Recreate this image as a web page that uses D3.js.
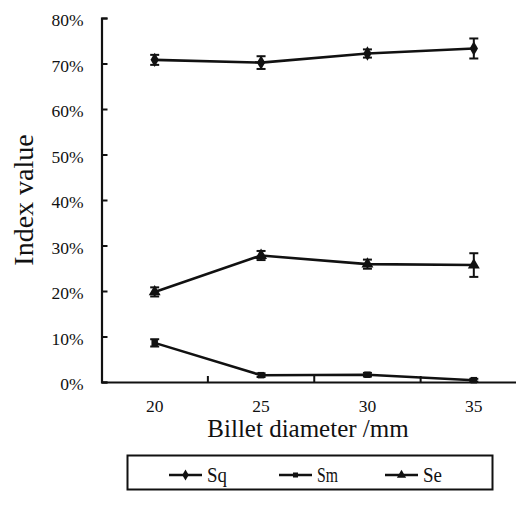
<!DOCTYPE html>
<html>
<head>
<meta charset="utf-8">
<script src="https://cdn.jsdelivr.net/npm/d3@7/dist/d3.min.js"></script>
<style>
  html, body { margin: 0; padding: 0; background: #fff; }
</style>
</head>
<body>
<svg id="chart" width="516" height="507"></svg>
<script>
// Billet diameters (mm)
const categories = ["20", "25", "30", "35"];

// Index values (fraction) and their error half-widths
const sqValues = [0.708, 0.702, 0.722, 0.733];
const sqErrors = [0.011, 0.014, 0.009, 0.022];
const smValues = [0.086, 0.015, 0.016, 0.004];
const smErrors = [0.008, 0.004, 0.004, 0.003];
const seValues = [0.198, 0.278, 0.259, 0.257];
const seErrors = [0.010, 0.010, 0.010, 0.026];

const yTickValues = [0, 0.1, 0.2, 0.3, 0.4, 0.5, 0.6, 0.7, 0.8];
const seriesNames = ["Sq", "Sm", "Se"];

function drawChart() {
  const FONT = "'Liberation Serif'";
  const ink = "#111";
  const root = d3.select("#chart");

  const seriesVals = [sqValues, smValues, seValues];
  const seriesErrs = [sqErrors, smErrors, seErrors];
  const symbols = [d3.symbolDiamond, d3.symbolSquare, d3.symbolTriangle];
  const symbolSizes = [60, 42, 62];

  const xs = d3.scaleBand().domain(categories).range([101.5, 527]).padding(0);
  const ys = d3.scaleLinear().domain([0, 0.8]).range([382, 18]);
  const cx = d => xs(d) + xs.bandwidth() / 2;

  const addText = (sel) => sel.style("font-family", FONT).attr("fill", ink);

  // Axis titles
  root.append("text")
    .attr("transform", `translate(33,${(ys(0) + ys(0.8)) / 2}) rotate(-90)`)
    .attr("text-anchor", "middle")
    .style("font-size", "28px")
    .call(addText)
    .text("Index value");
  root.append("text")
    .attr("x", 308).attr("y", 437)
    .attr("text-anchor", "middle")
    .style("font-size", "25px")
    .call(addText)
    .text("Billet diameter /mm");

  // Y axis: ticks point inward, labels on the left
  const gy = root.append("g")
    .attr("transform", `translate(${xs.range()[0]},0)`)
    .call(d3.axisLeft(ys).tickValues(yTickValues).tickSize(-6).tickPadding(18)
      .tickFormat(d3.format(".0%")));
  gy.attr("font-family", null).attr("font-size", null);
  gy.select(".domain").attr("stroke", ink).attr("stroke-width", 2.2);
  gy.selectAll(".tick line").attr("stroke", ink).attr("stroke-width", 2);
  gy.selectAll(".tick text").style("font-size", "17.5px").attr("dy", "0.45em").call(addText);

  // X axis: labels centred on each band, ticks at band boundaries pointing up
  const gx = root.append("g")
    .attr("transform", `translate(0,${ys(0)})`)
    .call(d3.axisBottom(xs).tickSize(0).tickPadding(18));
  gx.attr("font-family", null).attr("font-size", null);
  gx.select(".domain").attr("stroke", ink).attr("stroke-width", 2.2);
  gx.selectAll(".tick text").style("font-size", "17.5px").call(addText);
  gx.selectAll(".boundary")
    .data(categories.slice(1))
    .join("line")
    .attr("class", "boundary")
    .attr("x1", d => xs(d)).attr("x2", d => xs(d))
    .attr("y1", 0).attr("y2", -6)
    .attr("stroke", ink).attr("stroke-width", 2);

  // Series lines, error bars and markers
  const path = d3.line().x((d, i) => cx(categories[i])).y(d => ys(d));
  seriesVals.forEach((vals, s) => {
    const g = root.append("g");
    g.append("path")
      .attr("d", path(vals))
      .attr("fill", "none").attr("stroke", ink).attr("stroke-width", 2.6);
    const errs = seriesErrs[s];
    const eb = g.selectAll(".err").data(vals).join("g").attr("class", "err");
    eb.append("line")
      .attr("x1", (d, i) => cx(categories[i])).attr("x2", (d, i) => cx(categories[i]))
      .attr("y1", (d, i) => ys(d + errs[i])).attr("y2", (d, i) => ys(Math.max(0, d - errs[i])))
      .attr("stroke", ink).attr("stroke-width", 2);
    [1, -1].forEach(sign => {
      eb.append("line")
        .attr("x1", (d, i) => cx(categories[i]) - 4.5).attr("x2", (d, i) => cx(categories[i]) + 4.5)
        .attr("y1", (d, i) => ys(Math.max(0, d + sign * errs[i])))
        .attr("y2", (d, i) => ys(Math.max(0, d + sign * errs[i])))
        .attr("stroke", ink).attr("stroke-width", 2);
    });
    g.selectAll(".mark").data(vals).join("path")
      .attr("class", "mark")
      .attr("transform", (d, i) => `translate(${cx(categories[i])},${ys(d)})`)
      .attr("d", d3.symbol().type(symbols[s]).size(symbolSizes[s])())
      .attr("fill", ink);
  });

  // Legend
  const lg = root.append("g");
  lg.append("rect")
    .attr("x", 127.5).attr("y", 455.5).attr("width", 365).attr("height", 34)
    .attr("fill", "#fff").attr("stroke", ink).attr("stroke-width", 2);
  const legendX = [169, 279, 385];
  const legendTextWidth = [20, 21, 19];
  seriesNames.forEach((name, s) => {
    const lx = legendX[s];
    lg.append("line")
      .attr("x1", lx).attr("x2", lx + 33).attr("y1", 475).attr("y2", 475)
      .attr("stroke", ink).attr("stroke-width", 2.4);
    lg.append("path")
      .attr("transform", `translate(${lx + 16.5},475)`)
      .attr("d", d3.symbol().type(symbols[s]).size(symbolSizes[s] * 0.6)())
      .attr("fill", ink);
    lg.append("text")
      .attr("x", lx + 38).attr("y", 482)
      .style("font-size", "21px")
      .attr("textLength", legendTextWidth[s])
      .attr("lengthAdjust", "spacingAndGlyphs")
      .call(addText)
      .text(name);
  });
}

drawChart();
</script>
</body>
</html>
